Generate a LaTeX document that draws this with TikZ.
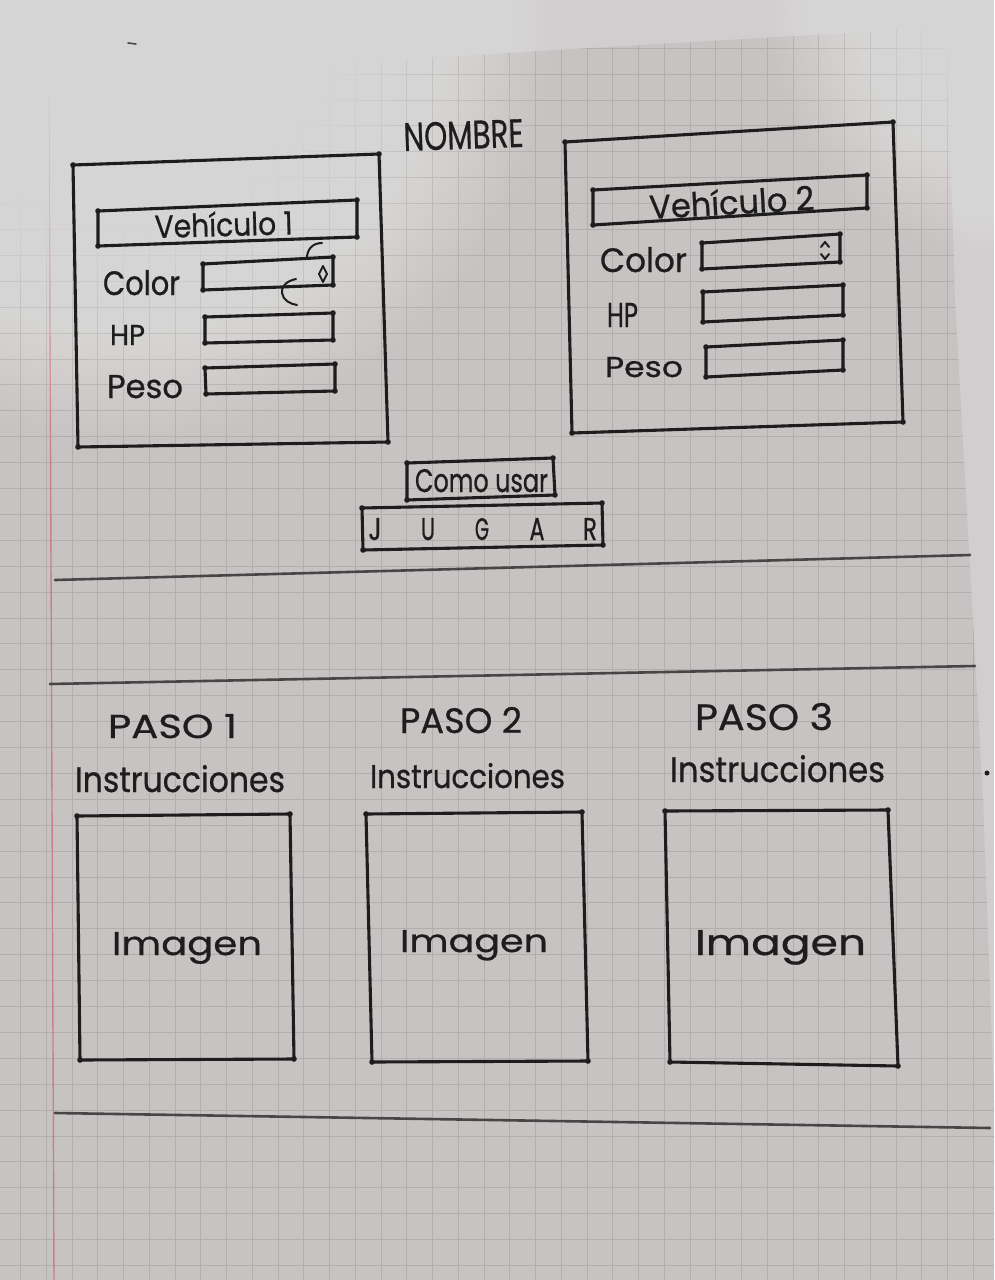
\documentclass[tikz,border=0pt]{standalone}
\usepackage{fontspec}
\setmainfont{Poppins}[FakeBold=0.7]
\usepackage{graphicx}
\definecolor{inkc}{HTML}{1E1D1D}
\definecolor{rulec}{HTML}{474545}
\definecolor{paperc}{HTML}{C7C3C2}
\definecolor{backc}{HTML}{D0CECE}
\definecolor{gridc}{HTML}{B2AEAE}
\definecolor{marginc}{HTML}{CC7F88}
% hand lettering squeezed into a given width and cap height
\newcommand\handtext[3]{\resizebox{#1pt}{#2pt}{#3}}
% a hand-drawn quadrilateral with ink blobs at the corners
\newcommand\sketchbox[4]{%
  \draw[pen] #1 -- #2 -- #3 -- #4 -- cycle;
  \foreach \p in {#1,#2,#3,#4} \fill[inkc] \p circle[radius=2.8pt];}
\begin{document}
\begin{tikzpicture}[x=1pt,y=-1pt,
  pen/.style={draw=inkc, line width=3.1pt, line join=round, line cap=round},
  thinpen/.style={draw=inkc, line width=2pt, line join=round, line cap=round},
  rule/.style={draw=rulec, line width=2.6pt, line cap=round},
  txt/.style={inner sep=0pt, outer sep=0pt, text=inkc, anchor=base west},
  letter/.style={inner sep=0pt, outer sep=0pt, text=inkc, anchor=base},
]
\useasboundingbox (0,0) rectangle (994,1280);
\fill[backc] (0,0) rectangle (994,1280);

% squared notebook sheet
\fill[paperc] (0,83) -- (947,27) -- (955,300) -- (983,800) -- (994,1100) -- (994,1280) -- (0,1280) -- cycle;
\begin{scope}
  \clip (0,83) -- (947,27) -- (955,300) -- (983,800) -- (994,1100) -- (994,1280) -- (0,1280) -- cycle;
  \foreach \k in {0,...,40} {
    \pgfmathsetmacro\gx{-5.25+25.75*\k}
    \draw[gridc, line width=1pt] (\gx,0) -- (\gx,1280);
  }
  \foreach \k in {0,...,50} {
    \pgfmathsetmacro\gy{-3.6+25.9*\k}
    \draw[gridc, line width=1pt] (0,\gy) -- (994,\gy);
  }
\end{scope}
\draw[marginc, line width=1.4pt] (49,84) -- (54,1280);

% light falling on the top corners
\foreach \r in {6,12,...,420}
  \fill[white, fill opacity=0.024] (130,20) circle[radius=\r pt];
\foreach \r in {5,10,...,220}
  \fill[white, fill opacity=0.025] (994,30) circle[radius=\r pt];

% stray pen marks
\draw[rulec, line width=1.6pt, line cap=round] (128,43) -- (136,44);
\fill[inkc] (987,773) circle[radius=2.5pt];

% title
\node[txt, rotate=2] (nombre) at (404,151) {\handtext{120}{28}{NOMBRE}};

% vehicle 1 panel
\sketchbox{(73,165)}{(379,154)}{(388,442)}{(78,447)}
\sketchbox{(98,211)}{(357,200)}{(357,237)}{(98,246)}
\node[txt, rotate=1.5] (v1title) at (155,238) {\handtext{138}{25}{Vehículo 1}};
\node[txt] (v1color) at (103,295) {\handtext{77}{25}{Color}};
\sketchbox{(203,264)}{(333,257)}{(333,285)}{(203,290)}
\draw[thinpen] (323,266) -- (327,274) -- (323,282) -- (319,274) -- cycle;
\draw[thinpen] (322,243) .. controls (312,243) and (307,250) .. (307,258);
\draw[thinpen] (296,279) .. controls (286,281) and (281,287) .. (282,293)
                         .. controls (283,300) and (290,304) .. (297,305);
\node[txt] (v1hp) at (110,345) {\handtext{35}{20}{HP}};
\sketchbox{(205,317)}{(333,313)}{(333,340)}{(205,343)}
\node[txt] (v1peso) at (107,398) {\handtext{76}{23}{Peso}};
\sketchbox{(205,368)}{(335,364)}{(335,391)}{(206,394)}

% vehicle 2 panel
\sketchbox{(565,142)}{(893,122)}{(903,422)}{(572,433)}
\sketchbox{(593,190)}{(867,175)}{(867,208)}{(593,225)}
\node[txt, rotate=3.2] (v2title) at (650,219) {\handtext{165}{26}{Vehículo 2}};
\node[txt] (v2color) at (600,272) {\handtext{87}{25}{Color}};
\sketchbox{(702,243)}{(840,234)}{(840,262)}{(702,269)}
\draw[thinpen] (821,247) -- (825,242) -- (829,247);
\draw[thinpen] (821,254) -- (825,259) -- (829,254);
\node[txt] (v2hp) at (607,327) {\handtext{31}{24}{HP}};
\sketchbox{(703,292)}{(843,285)}{(843,315)}{(703,322)}
\node[txt] (v2peso) at (605,377) {\handtext{78}{20}{Peso}};
\sketchbox{(706,347)}{(843,340)}{(843,370)}{(706,377)}

% buttons
\sketchbox{(407,463)}{(553,458)}{(555,495)}{(407,500)}
\node[txt] (comousar) at (415,492) {\handtext{133}{23}{Como usar}};
\sketchbox{(362,508)}{(602,503)}{(603,545)}{(363,550)}
\node[letter] (bj) at (375,540) {\handtext{13}{22}{J}};
\node[letter] (bu) at (428,540) {\handtext{14}{22}{U}};
\node[letter] (bg) at (482,540) {\handtext{14}{22}{G}};
\node[letter] (ba) at (537,540) {\handtext{15}{22}{A}};
\node[letter] (br) at (590,540) {\handtext{14}{22}{R}};

% section rules
\draw[rule] (55,580) -- (970,555);
\draw[rule] (50,684) -- (975,666);
\draw[rule] (55,1113) -- (990,1128);

% steps
\node[txt] (paso1) at (108,738) {\handtext{129}{24}{PASO 1}};
\node[txt] (paso2) at (400,733) {\handtext{122}{26}{PASO 2}};
\node[txt] (paso3) at (695,730) {\handtext{138}{27}{PASO 3}};
\node[txt] (instr1) at (75,792) {\handtext{210}{27}{Instrucciones}};
\node[txt] (instr2) at (370,788) {\handtext{195}{25}{Instrucciones}};
\node[txt] (instr3) at (670,782) {\handtext{215}{27}{Instrucciones}};

\sketchbox{(77,816)}{(290,814)}{(294,1059)}{(80,1060)}
\sketchbox{(366,814)}{(582,812)}{(588,1061)}{(372,1062)}
\sketchbox{(665,811)}{(888,810)}{(898,1066)}{(670,1062)}
\node[txt] (img1) at (112,955) {\handtext{150}{23}{Imagen}};
\node[txt] (img2) at (400,952) {\handtext{148}{22}{Imagen}};
\node[txt] (img3) at (695,955) {\handtext{171}{25}{Imagen}};
\end{tikzpicture}
\end{document}
